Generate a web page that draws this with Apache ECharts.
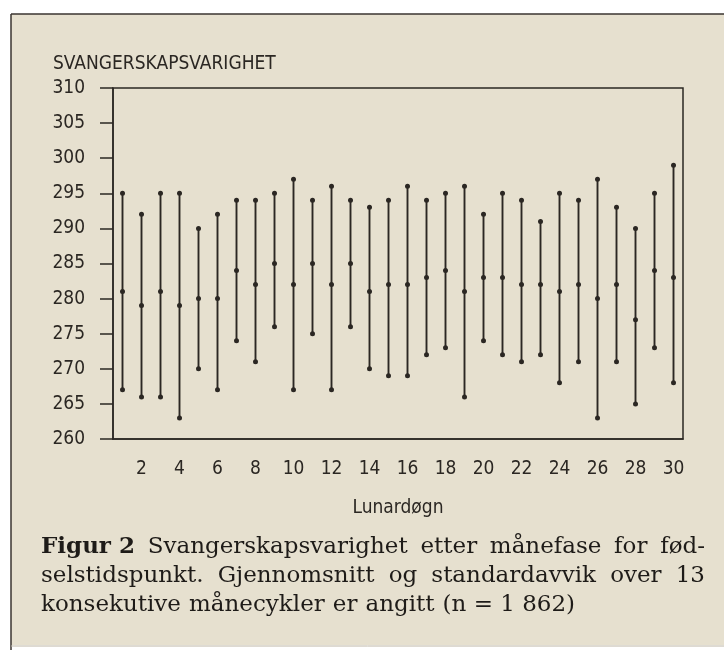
<!DOCTYPE html>
<html>
<head>
<meta charset="utf-8">
<script src="https://cdn.jsdelivr.net/npm/echarts@6/dist/echarts.min.js"></script>
<style>
  html, body { margin: 0; padding: 0; background: #fff; }
  #chart { width: 724px; height: 650px; }
</style>
</head>
<body>
<div id="chart"></div>
<script>
const days = Array.from({ length: 30 }, (_, i) => String(i + 1));
const means = [281, 279, 281, 279, 280, 280, 284, 282, 285, 282, 285, 282, 285, 281, 282, 282, 283, 284, 281, 283, 283, 282, 282, 281, 282, 280, 282, 277, 284, 283];
const highs = [295, 292, 295, 295, 290, 292, 294, 294, 295, 297, 294, 296, 294, 293, 294, 296, 294, 295, 296, 292, 295, 294, 291, 295, 294, 297, 293, 290, 295, 299];
const lows = [267, 266, 266, 263, 270, 267, 274, 271, 276, 267, 275, 267, 276, 270, 269, 269, 272, 273, 266, 274, 272, 271, 272, 268, 271, 263, 271, 265, 273, 268];

const yTitle = "SVANGERSKAPSVARIGHET";
const xTitle = "Lunardøgn";
const captionLines = [
  ["Figur 2", "Svangerskapsvarighet", "etter", "månefase", "for", "fød-"],
  ["selstidspunkt.", "Gjennomsnitt", "og", "standardavvik", "over", "13"],
  ["konsekutive", "månecykler", "er", "angitt", "(n = 1 862)"]
];

const ink = "#2b2723";
const paper = "#e6e0cf";
const labelFont = "'DejaVu Sans Condensed', 'DejaVu Sans', sans-serif";
const serif = "'DejaVu Serif', 'Liberation Serif', serif";

// justify caption words between left and right edges
const measure = document.createElement("canvas").getContext("2d");
function captionGraphics() {
  const out = [];
  const left = 41, right = 705, size = 23;
  const baselines = [554, 583, 612];
  captionLines.forEach((words, li) => {
    const fonts = words.map((w, i) => (li === 0 && i === 0 ? "bold " : "") + size + "px " + serif);
    const widths = words.map((w, i) => {
      measure.font = fonts[i];
      return measure.measureText(w).width;
    });
    const total = widths.reduce((a, b) => a + b, 0);
    const justify = li < captionLines.length - 1;
    const gap = justify ? (right - left - total) / (words.length - 1) : size * 0.35;
    let x = left;
    words.forEach((w, i) => {
      out.push({
        type: "text",
        x: x,
        y: baselines[li] - 7,
        style: { text: w, font: fonts[i], fill: "#1e1b18", verticalAlign: "middle" }
      });
      x += widths[i] + gap;
    });
  });
  return out;
}

function renderBar(params, api) {
  const i = api.value(0);
  const top = api.coord([i, api.value(2)]);
  const mid = api.coord([i, api.value(1)]);
  const bot = api.coord([i, api.value(3)]);
  const dot = (p) => ({
    type: "circle",
    shape: { cx: p[0], cy: p[1], r: 2.5 },
    style: { fill: ink }
  });
  return {
    type: "group",
    children: [
      {
        type: "line",
        shape: { x1: top[0], y1: top[1], x2: bot[0], y2: bot[1] },
        style: { stroke: ink, lineWidth: 1.9 }
      },
      dot(top),
      dot(mid),
      dot(bot)
    ]
  };
}

const chart = echarts.init(document.getElementById("chart"));
chart.setOption({
  backgroundColor: "#ffffff",
  animation: false,
  grid: {
    left: 113, right: 41, top: 88, bottom: 211,
    show: true, borderColor: ink, borderWidth: 1.5,
    backgroundColor: "transparent"
  },
  graphic: [
    { type: "rect", z: -10, shape: { x: 11, y: 14, width: 713, height: 631 }, style: { fill: paper } },
    { type: "line", shape: { x1: 11, y1: 14, x2: 724, y2: 14 }, style: { stroke: "#3a3530", lineWidth: 1.5 } },
    { type: "line", shape: { x1: 11, y1: 14, x2: 11, y2: 650 }, style: { stroke: "#3a3530", lineWidth: 1.5 } },
    { type: "line", shape: { x1: 11, y1: 646, x2: 724, y2: 646 }, style: { stroke: "#bdb6a6", lineWidth: 1 } },
    {
      type: "text", x: 53, y: 64,
      style: { text: yTitle, font: "19px " + labelFont, fill: ink, verticalAlign: "middle" }
    },
    ...captionGraphics()
  ],
  xAxis: {
    type: "category",
    data: days,
    boundaryGap: true,
    name: xTitle,
    nameLocation: "middle",
    nameGap: 60,
    nameTextStyle: { color: ink, fontSize: 19, fontFamily: labelFont },
    axisLine: { lineStyle: { color: ink, width: 1.5 } },
    axisTick: { alignWithLabel: true, interval: 0, length: 13, lineStyle: { color: ink, width: 1.5 } },
    axisLabel: {
      interval: (idx) => idx % 2 === 1,
      margin: 21,
      color: ink,
      fontSize: 19,
      fontFamily: labelFont
    },
    splitLine: { show: false }
  },
  yAxis: {
    type: "value",
    min: 260,
    max: 310,
    interval: 5,
    axisLine: { show: true, lineStyle: { color: ink, width: 1.5 } },
    axisTick: { show: true, length: 13, lineStyle: { color: ink, width: 1.5 } },
    axisLabel: { margin: 28, color: ink, fontSize: 19, fontFamily: labelFont },
    splitLine: { show: false }
  },
  series: [
    {
      type: "custom",
      renderItem: renderBar,
      clip: false,
      encode: { x: 0, y: [1, 2, 3] },
      data: days.map((d, i) => [i, means[i], highs[i], lows[i]])
    }
  ]
});
</script>
</body>
</html>
